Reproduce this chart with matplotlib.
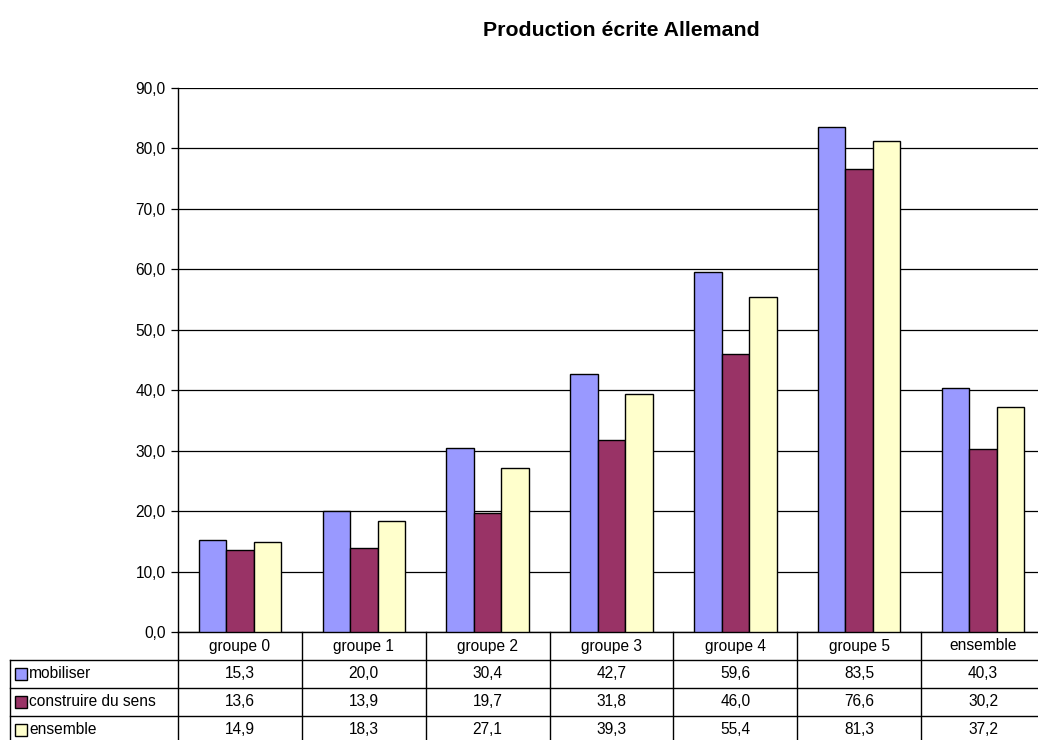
import matplotlib
matplotlib.use('Agg')
import matplotlib.pyplot as plt
import matplotlib.transforms as mtransforms
from matplotlib.patches import Rectangle
import numpy as np

plt.rcParams['font.family'] = ['Liberation Sans', 'DejaVu Sans']

categories = ['groupe 0', 'groupe 1', 'groupe 2', 'groupe 3', 'groupe 4', 'groupe 5', 'ensemble']
series_names = ['mobiliser', 'construire du sens', 'ensemble']
mobiliser = [15.3, 20.0, 30.4, 42.7, 59.6, 83.5, 40.3]
construire = [13.6, 13.9, 19.7, 31.8, 46.0, 76.6, 30.2]
ensemble = [14.9, 18.3, 27.1, 39.3, 55.4, 81.3, 37.2]
colors = ['#9999FF', '#993366', '#FFFFCC']
yticks = [0, 10, 20, 30, 40, 50, 60, 70, 80, 90]

W, H = 1038, 740
fs = 11.2
fig = plt.figure(figsize=(W / 100, H / 100), dpi=100)
ax_px = (178, 108, 867, 544)  # left, bottom, width, height in pixels
ax = fig.add_axes([ax_px[0] / W, ax_px[1] / H, ax_px[2] / W, ax_px[3] / H])

series = [mobiliser, construire, ensemble]
x = np.arange(len(categories))
w = 0.222
for i, (vals, c) in enumerate(zip(series, colors)):
    ax.bar(x + (i - 1) * w, vals, w, color=c, edgecolor='black', linewidth=1, zorder=3)

ax.set_xlim(-0.5, len(categories) - 0.5)
ax.set_ylim(0, 90)
ax.set_yticks(yticks)
ax.set_yticklabels([('%.1f' % v).replace('.', ',') for v in yticks], fontsize=fs)
ax.set_xticks([])
ax.grid(axis='y', color='black', linewidth=0.9, zorder=0)
ax.set_axisbelow(True)
for s in ['top', 'right']:
    ax.spines[s].set_visible(False)
ax.spines['left'].set_linewidth(1)
ax.spines['bottom'].set_linewidth(1)
ax.tick_params(axis='y', length=5, width=0.9, direction='out', pad=4)

fig.text(621 / W, 1 - 30 / H, 'Production écrite Allemand', fontsize=15.3,
         fontweight='bold', ha='center', va='center')

# data table below the chart
trans = mtransforms.blended_transform_factory(ax.transData, ax.transAxes)
cat_px = ax_px[2] / len(categories)
rh = 28 / ax_px[3]
label_x0 = -0.5 - 168 / cat_px
lk = dict(color='black', linewidth=1, transform=trans, clip_on=False)

for b in np.arange(-0.5, len(categories) + 0.5, 1):
    ax.plot([b, b], [0, -4 * rh], **lk)
for k in range(1, 4):
    ax.plot([label_x0, len(categories) - 0.5], [-k * rh, -k * rh], **lk)
ax.plot([label_x0, label_x0], [-rh, -4 * rh], **lk)

for j, cat in enumerate(categories):
    ax.text(j, -0.5 * rh, cat, transform=trans, ha='center', va='center', fontsize=fs)

sw_w = 12 / cat_px
sw_h = 12 / ax_px[3]
for k, (name, vals, c) in enumerate(zip(series_names, series, colors)):
    yc = -(k + 1.5) * rh
    ax.add_patch(Rectangle((label_x0 + 5 / cat_px, yc - sw_h / 2), sw_w, sw_h,
                           facecolor=c, edgecolor='black', linewidth=1,
                           transform=trans, clip_on=False))
    ax.text(label_x0 + 19 / cat_px, yc, name, transform=trans, ha='left',
            va='center', fontsize=fs)
    for j, v in enumerate(vals):
        ax.text(j, yc, ('%.1f' % v).replace('.', ','), transform=trans,
                ha='center', va='center', fontsize=fs)

fig.savefig('out.png', dpi=100)
